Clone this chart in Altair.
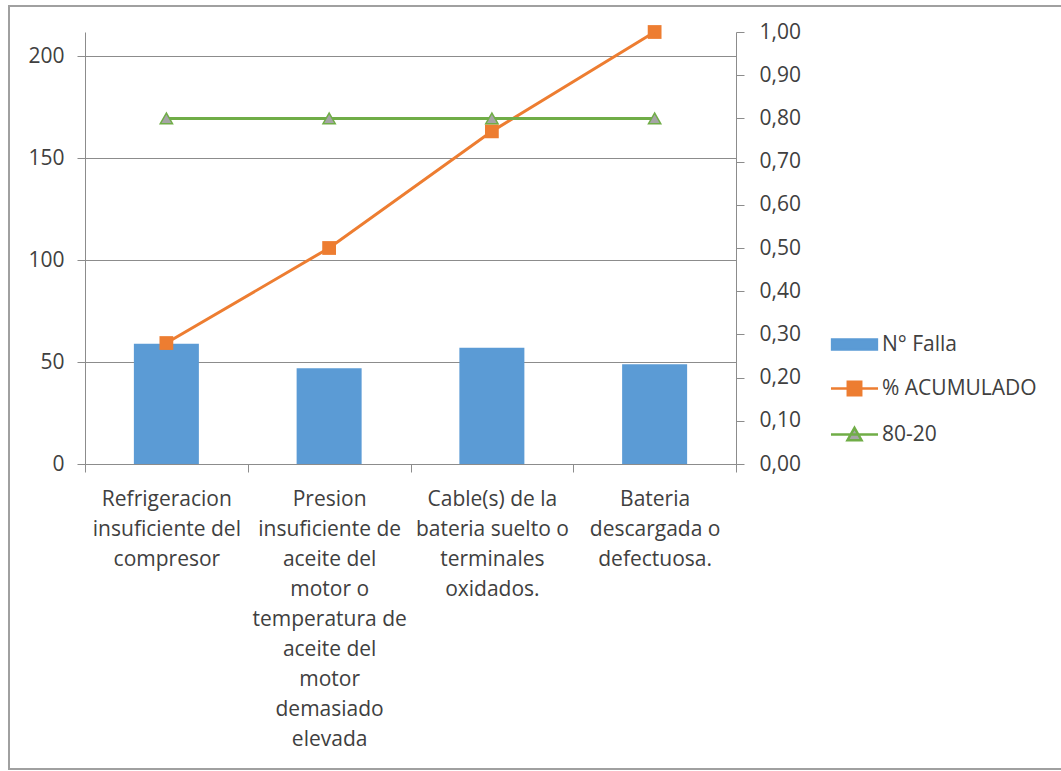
import altair as alt
import pandas as pd

# ---- data ----
categories = [
    "Refrigeracion\ninsuficiente del\ncompresor",
    "Presion\ninsuficiente de\naceite del\nmotor o\ntemperatura de\naceite del\nmotor\ndemasiado\nelevada",
    "Cable(s) de la\nbateria suelto o\nterminales\noxidados.",
    "Bateria\ndescargada o\ndefectuosa.",
]
n_falla = [59, 47, 57, 49]
pct_acumulado = [0.28, 0.50, 0.77, 1.00]
ochenta_veinte = [0.80, 0.80, 0.80, 0.80]
left_max = 212
left_ticks = [0, 50, 100, 150, 200]
right_ticks = [0.0, 0.1, 0.2, 0.3, 0.4, 0.5, 0.6, 0.7, 0.8, 0.9, 1.0]
series = ["N° Falla", "% ACUMULADO", "80-20"]

# ---- styles ----
FONT = "Open Sans"
TXT = "#404040"
GRAY = "#8c8c8c"
BLUE = "#5B9BD5"
ORANGE = "#ED7D31"
GREEN = "#70AD47"
MARKER_GRAY = "#A5A5A5"

W, H = 651, 432
PAD_L, PAD_T = 85, 32

df = pd.DataFrame({"causa": categories, "falla": n_falla,
                   "acum": pct_acumulado, "ref": ochenta_veinte})

x_enc = alt.X(
    "causa:N", sort=categories,
    scale=alt.Scale(paddingInner=0, paddingOuter=0),
    axis=alt.Axis(title=None, labelAngle=0, labelExpr="split(datum.label, '\\n')",
                  labelFont=FONT, labelFontSize=21, labelLineHeight=30, labelColor=TXT,
                  labelPadding=16, labelBaseline="top", labelLimit=220,
                  tickBand="extent", tickSize=8, tickColor=GRAY, tickWidth=1,
                  domainColor=GRAY, domainWidth=1, grid=False),
)

bars = alt.Chart(df).mark_bar(size=65, color=BLUE).encode(
    x=x_enc,
    y=alt.Y("falla:Q", scale=alt.Scale(domain=[0, left_max], nice=False),
            axis=alt.Axis(title=None, orient="left", values=left_ticks, grid=True,
                          gridColor=GRAY, gridWidth=1, domainColor=GRAY, tickColor=GRAY,
                          tickSize=8, labelFont=FONT, labelFontSize=21, labelColor=TXT,
                          labelPadding=13)),
)

yr_scale = alt.Scale(domain=[0, 1], nice=False)
orange_line = alt.Chart(df).mark_line(color=ORANGE, strokeWidth=3).encode(
    x=x_enc,
    y=alt.Y("acum:Q", scale=yr_scale,
            axis=alt.Axis(title=None, orient="right", values=right_ticks, grid=False,
                          labelExpr="replace(format(datum.value, '.2f'), '.', ',')",
                          domainColor=GRAY, tickColor=GRAY, tickSize=8,
                          labelFont=FONT, labelFontSize=21, labelColor=TXT,
                          labelPadding=15)),
)
orange_pts = alt.Chart(df).mark_point(shape="square", size=190, filled=True,
                                      color=ORANGE, opacity=1).encode(
    x=x_enc,
    y=alt.Y("acum:Q", scale=yr_scale, axis=None),
)
green_line = alt.Chart(df).mark_line(color=GREEN, strokeWidth=3).encode(
    x=x_enc,
    y=alt.Y("ref:Q", scale=yr_scale, axis=None),
)
green_pts = alt.Chart(df).mark_point(shape="triangle-up", size=150, filled=True,
                                     fill=MARKER_GRAY, stroke=GREEN, strokeWidth=1.5,
                                     opacity=1).encode(
    x=x_enc,
    y=alt.Y("ref:Q", scale=yr_scale, axis=None),
)

# legend (symbols: bar / line+square / line+triangle)
paths = [
    "M-1.4,-0.32H1.4V0.32H-1.4Z",
    "M-1.47,0H1.47M-0.42,-0.42H0.42V0.42H-0.42Z",
    "M-1.47,0H1.47M0,-0.42L0.44,0.36H-0.44Z",
]
fills = [BLUE, ORANGE, MARKER_GRAY]
strokes = [BLUE, ORANGE, GREEN]
leg = alt.Legend(title=None, orient="none", legendX=752, legendY=295, padding=0,
                 symbolSize=1024, symbolStrokeWidth=2.5, rowPadding=16, labelOffset=10,
                 labelFont=FONT, labelFontSize=21, labelColor=TXT, labelLimit=300)
legend_df = pd.DataFrame({"serie": series})
legend_layer = alt.Chart(legend_df).transform_filter("false").mark_point(
    filled=True, opacity=1, strokeWidth=2.5).encode(
    fill=alt.Fill("serie:N", scale=alt.Scale(domain=series, range=fills), legend=leg),
    stroke=alt.Stroke("serie:N", scale=alt.Scale(domain=series, range=strokes), legend=leg),
    shape=alt.Shape("serie:N", scale=alt.Scale(domain=series, range=paths), legend=leg),
)

# chart-area border
border = alt.Chart(alt.Data(values=[{"k": 1}])).mark_rect(
    fillOpacity=0, stroke="#a0a0a0", strokeWidth=2).encode(
    x=alt.value(9 - PAD_L), x2=alt.value(1100 - PAD_L),
    y=alt.value(6 - PAD_T), y2=alt.value(769 - PAD_T),
)

chart = alt.layer(border, bars, orange_line, green_line, orange_pts, green_pts,
                  legend_layer).resolve_scale(
    y="independent"
).properties(
    width=W, height=H,
    autosize=alt.AutoSizeParams(type="none"),
    padding={"left": PAD_L, "top": PAD_T, "right": 1061 - PAD_L - W, "bottom": 771 - PAD_T - H},
    background="white",
).configure_view(strokeOpacity=0)

chart.save("out.html", embed_options={"renderer": "svg", "actions": False})
